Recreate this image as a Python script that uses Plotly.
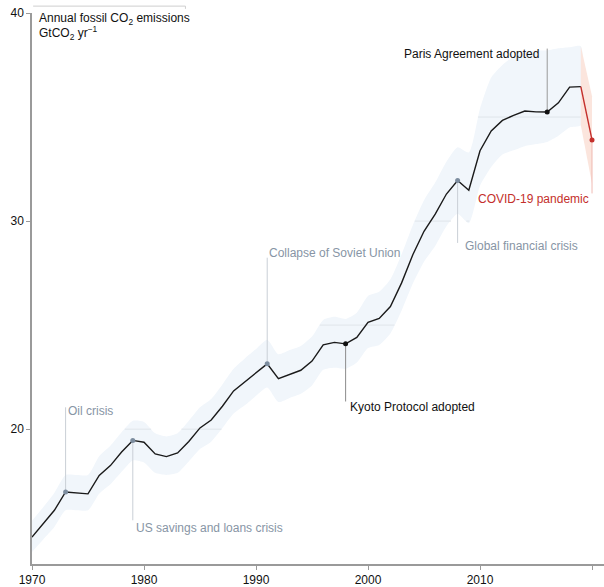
import numpy as np
import plotly.graph_objects as go

years = list(range(1970, 2021))
emissions = [14.81, 15.45, 16.10, 16.98, 16.92, 16.89, 17.78, 18.25, 18.90, 19.46,
             19.37, 18.81, 18.68, 18.86, 19.41, 20.06, 20.44, 21.10, 21.84, 22.27,
             22.71, 23.14, 22.43, 22.63, 22.83, 23.27, 24.05, 24.17, 24.10, 24.41,
             25.13, 25.32, 25.89, 27.03, 28.38, 29.51, 30.33, 31.30, 31.95, 31.48,
             33.38, 34.33, 34.84, 35.08, 35.29, 35.25, 35.24, 35.68, 36.44, 36.46,
             33.90]
band_upper = [15.6, 16.25, 16.95, 17.8, 17.8, 17.8, 18.7, 19.2, 19.85, 20.4,
              20.35, 19.8, 19.65, 19.8, 20.4, 21.05, 21.45, 22.15, 22.9, 23.4,
              23.85, 24.3, 23.6, 23.8, 24.0, 24.45, 25.25, 25.4, 25.3, 25.6,
              26.4, 26.6, 27.2, 28.4, 29.8, 31.0, 31.85, 32.85, 33.55, 33.3,
              35.4, 36.9, 37.5, 37.9, 38.1, 38.2, 38.2, 38.3, 38.35, 38.4,
              36.0]
band_lower = [14.1, 14.7, 15.3, 16.1, 16.1, 16.1, 16.9, 17.35, 17.95, 18.5,
              18.4, 17.9, 17.8, 17.9, 18.45, 19.05, 19.4, 20.05, 20.75, 21.15,
              21.6, 22.0, 21.3, 21.5, 21.7, 22.1, 22.85, 22.95, 22.9, 23.2,
              23.9, 24.05, 24.6, 25.7, 27.0, 28.05, 28.8, 29.75, 30.35, 29.9,
              31.7, 32.6, 33.2, 33.4, 33.6, 33.7, 33.8, 34.1, 34.5, 34.6,
              31.8]
gridline_values = [20, 25, 30, 35]

event_years = [1973, 1979, 1991, 1998, 2008, 2016]
event_labels = ["Oil crisis", "US savings and loans crisis", "Collapse of Soviet Union",
                "Kyoto Protocol adopted", "Global financial crisis", "Paris Agreement adopted"]
event_text_y = [20.86, 15.25, 28.46, 21.05, 28.78, 38.03]
event_line_end = [21.05, 15.62, 28.24, 21.33, 28.95, 38.29]
covid_label = "COVID-19 pandemic"
covid_text_y = 31.08

GRAY_TXT = "#8795a5"
GRAY_MK = "#7d8d9f"
RED = "#c42f2b"
FONT = "Liberation Sans, Arial, sans-serif"

n_hist = len(years) - 1
fig = go.Figure()

# uncertainty band (historical)
bx = years[:n_hist] + years[:n_hist][::-1]
by = band_upper[:n_hist] + band_lower[:n_hist][::-1]
fig.add_trace(go.Scatter(x=bx, y=by, fill="toself", mode="lines",
                         line=dict(width=0, shape="spline", smoothing=0.6),
                         fillcolor="rgb(241,246,251)", hoverinfo="skip", showlegend=False))
# covid band
cx = years[n_hist - 1:] + years[n_hist - 1:][::-1]
cy = band_upper[n_hist - 1:] + band_lower[n_hist - 1:][::-1]
fig.add_trace(go.Scatter(x=cx, y=cy, fill="toself", mode="lines", line=dict(width=0),
                         fillcolor="rgb(251,229,221)", hoverinfo="skip", showlegend=False))

# gridlines visible only inside the band
xs = np.linspace(years[0], years[n_hist - 1], 4000)
up = np.interp(xs, years[:n_hist], band_upper[:n_hist])
lo = np.interp(xs, years[:n_hist], band_lower[:n_hist])
gx, gy = [], []
for g in gridline_values:
    inside = (lo <= g) & (up >= g)
    i = 0
    while i < len(xs):
        if inside[i]:
            j = i
            while j + 1 < len(xs) and inside[j + 1]:
                j += 1
            gx += [xs[i], xs[j], None]
            gy += [g, g, None]
            i = j + 1
        else:
            i += 1
fig.add_trace(go.Scatter(x=gx, y=gy, mode="lines", line=dict(color="#e0e5ea", width=1),
                         hoverinfo="skip", showlegend=False))

# connector lines
line_cols = ["#c9cfd6", "#c9cfd6", "#c9cfd6", "#8c8c8c", "#c9cfd6", "#9a9a9a"]
for yr, yend, lc in zip(event_years, event_line_end, line_cols):
    v = emissions[years.index(yr)]
    fig.add_trace(go.Scatter(x=[yr, yr], y=[v, yend], mode="lines",
                             line=dict(color=lc, width=1), hoverinfo="skip", showlegend=False))
fig.add_trace(go.Scatter(x=[2020, 2020], y=[emissions[-1], covid_text_y + 0.25], mode="lines",
                         line=dict(color="rgba(235,170,160,0.8)", width=1),
                         hoverinfo="skip", showlegend=False))

# main line
fig.add_trace(go.Scatter(x=years[:n_hist], y=emissions[:n_hist], mode="lines",
                         line=dict(color="#1a1a1a", width=1.4), showlegend=False))
fig.add_trace(go.Scatter(x=years[n_hist - 1:], y=emissions[n_hist - 1:], mode="lines",
                         line=dict(color=RED, width=1.4), showlegend=False))

# markers
mk_cols = [GRAY_MK, GRAY_MK, GRAY_MK, "#111111", GRAY_MK, "#111111"]
fig.add_trace(go.Scatter(x=event_years, y=[emissions[years.index(y)] for y in event_years],
                         mode="markers", marker=dict(color=mk_cols, size=5),
                         showlegend=False))
fig.add_trace(go.Scatter(x=[2020], y=[emissions[-1]], mode="markers",
                         marker=dict(color=RED, size=5), showlegend=False))

# annotations
txt_cols = [GRAY_TXT, GRAY_TXT, GRAY_TXT, "#111111", GRAY_TXT, "#111111"]
anchors = ["left", "left", "left", "left", "left", "right"]
shifts = [0, 1, 0, 2, 5, -6]
for yr, lab, ty, c, a, s in zip(event_years, event_labels, event_text_y, txt_cols, anchors, shifts):
    fig.add_annotation(x=yr, y=ty, text=lab, showarrow=False, xanchor=a, yanchor="middle",
                       xshift=s, font=dict(family=FONT, size=12, color=c))
fig.add_annotation(x=2020, y=covid_text_y, text=covid_label, showarrow=False, xanchor="right",
                   yanchor="middle", xshift=-1, font=dict(family=FONT, size=12, color=RED))

# axis title
fig.add_annotation(x=1970.45, y=39.7, text="Annual fossil CO<sub>2</sub> emissions",
                   showarrow=False, xanchor="left", yanchor="middle",
                   font=dict(family=FONT, size=12, color="#111111"))
fig.add_annotation(x=1970.45, y=39.02, text="GtCO<sub>2</sub> yr<sup>−1</sup>",
                   showarrow=False, xanchor="left", yanchor="middle",
                   font=dict(family=FONT, size=12, color="#111111"))

# top bracket decoration
fig.add_shape(type="line", xref="x", yref="paper", x0=1970.1, x1=1983.7, y0=1.0125, y1=1.0125,
              line=dict(color="#cfcfcf", width=1))
fig.add_shape(type="line", xref="x", yref="paper", x0=1983.7, x1=1983.7, y0=1.0125, y1=1.0075,
              line=dict(color="#cfcfcf", width=1))

fig.update_layout(
    width=604, height=587,
    margin=dict(l=32, r=0, t=13, b=20),
    plot_bgcolor="white", paper_bgcolor="white",
    font=dict(family=FONT, size=12, color="#111111"),
    xaxis=dict(range=[1970, 2021.07], tickvals=[1970, 1980, 1990, 2000, 2010, 2020],
               showgrid=False, zeroline=False, showline=True, linecolor="#9a9a9a", linewidth=1.5,
               ticks="outside", ticklen=4, tickcolor="#9a9a9a", tickfont=dict(size=12)),
    yaxis=dict(range=[13.52, 40], tickvals=[20, 30, 40],
               showgrid=False, zeroline=False, showline=True, linecolor="#9a9a9a", linewidth=1.5,
               ticks="outside", ticklen=4, tickcolor="#9a9a9a", tickfont=dict(size=12)),
)

fig.write_html("out.html", config={"displayModeBar": False},
               post_script="document.body.style.margin='0';document.body.style.overflow='hidden';")
